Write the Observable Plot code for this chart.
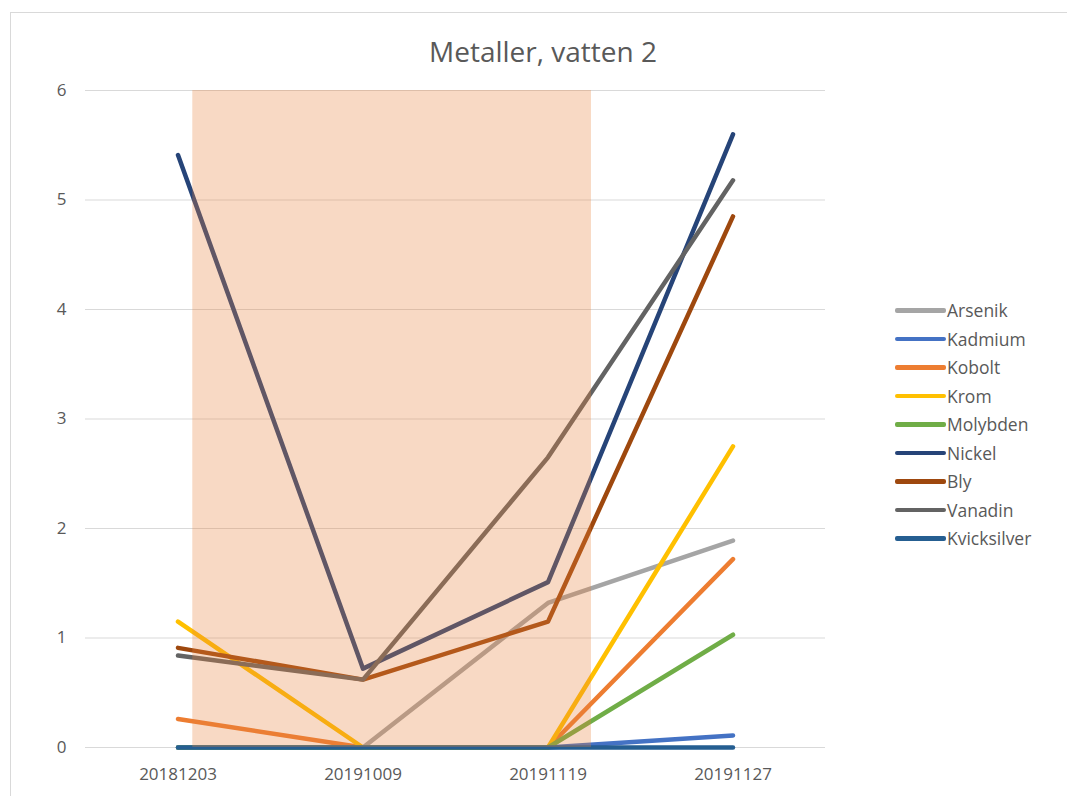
<!DOCTYPE html>
<html>
<head>
<meta charset="utf-8">
<script src="https://cdn.jsdelivr.net/npm/d3@7"></script>
<script src="https://cdn.jsdelivr.net/npm/@observablehq/plot@0.6"></script>
<style>
  html, body { margin: 0; padding: 0; background: #fff; }
  body { width: 1067px; height: 796px; overflow: hidden; position: relative; font-family: "Open Sans", "Noto Sans", sans-serif; }
  #frame { position: absolute; left: 10px; top: 12px; width: 1100px; height: 820px; border: 1px solid #d9d9d9; box-sizing: border-box; }
  #title { position: absolute; left: 0; width: 1086px; top: 31px; text-align: center; font-size: 28px; line-height: 40px; color: #595959; }
  #chart { position: absolute; left: 0; top: 0; }
  #legend { position: absolute; left: 895px; top: 296px; font-size: 17.5px; color: #595959; }
  .item { display: flex; align-items: center; height: 28.5px; }
  .sw { width: 51px; height: 4.5px; border-radius: 2px; margin-right: 1px; }
</style>
</head>
<body>
<div id="frame"></div>
<div id="chart"></div>
<div id="title">Metaller, vatten 2</div>
<div id="legend"></div>
<script>
const dates = ["20181203", "20191009", "20191119", "20191127"];
const seriesNames = ["Arsenik", "Kadmium", "Kobolt", "Krom", "Molybden", "Nickel", "Bly", "Vanadin", "Kvicksilver"];
const seriesColors = ["#A5A5A5", "#4472C4", "#ED7D31", "#FFC000", "#70AD47", "#264478", "#9E480E", "#636363", "#255E91"];
const arsenik     = [0,    0,    1.32, 1.89];
const kadmium     = [0,    0,    0,    0.11];
const kobolt      = [0.26, 0,    0,    1.72];
const krom        = [1.15, 0,    0,    2.75];
const molybden    = [0,    0,    0,    1.03];
const nickel      = [5.41, 0.72, 1.51, 5.60];
const bly         = [0.91, 0.62, 1.15, 4.85];
const vanadin     = [0.84, 0.62, 2.65, 5.18];
const kvicksilver = [0,    0,    0,    0];
const yTicks = [0, 1, 2, 3, 4, 5, 6];
// shaded period, in category-index units
const shadedPeriod = [{start: 0.08, end: 2.235}];

const allSeries = [arsenik, kadmium, kobolt, krom, molybden, nickel, bly, vanadin, kvicksilver];
const rows = [];
seriesNames.forEach((name, si) => {
  allSeries[si].forEach((v, i) => rows.push({series: name, i, date: dates[i], value: v}));
});

const plot = Plot.plot({
  width: 1067,
  height: 796,
  marginLeft: 85,
  marginRight: 242,
  marginTop: 90,
  marginBottom: 49,
  style: {fontFamily: "'Open Sans', 'Noto Sans', sans-serif", fontSize: "17px", color: "#595959", background: "transparent"},
  x: {type: "linear", domain: [-0.5, 3.5]},
  y: {domain: [0, 6]},
  color: {domain: seriesNames, range: seriesColors},
  marks: [
    Plot.ruleY(yTicks, {stroke: "#d9d9d9", strokeWidth: 1}),
    Plot.line(rows, {x: "i", y: "value", z: "series", stroke: "series", strokeWidth: 4.5, strokeLinecap: "round", strokeLinejoin: "round"}),
    Plot.rect(shadedPeriod, {x1: "start", x2: "end", y1: 0, y2: 6, fill: "#E8803A", fillOpacity: 0.3}),
    Plot.axisY({ticks: yTicks, tickFormat: d3.format("d"), tickSize: 0, tickPadding: 19, label: null, fill: "#595959", fontSize: 17}),
    Plot.axisX({ticks: [0, 1, 2, 3], tickFormat: (d) => dates[d], tickSize: 0, tickPadding: 20, label: null, fill: "#595959", fontSize: 17})
  ]
});
document.getElementById("chart").appendChild(plot);

const legend = document.getElementById("legend");
seriesNames.forEach((name, i) => {
  const it = document.createElement("div");
  it.className = "item";
  const sw = document.createElement("div");
  sw.className = "sw";
  sw.style.background = seriesColors[i];
  const t = document.createElement("span");
  t.textContent = name;
  it.appendChild(sw); it.appendChild(t);
  legend.appendChild(it);
});
</script>
</body>
</html>
